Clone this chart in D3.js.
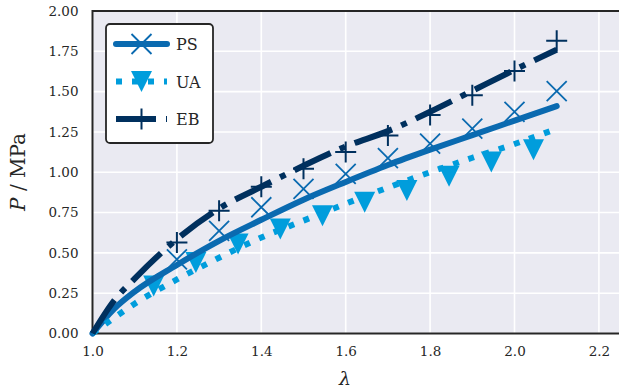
<!DOCTYPE html>
<html>
<head>
<meta charset="utf-8">
<script src="https://cdn.jsdelivr.net/npm/d3@7"></script>
<style>
  body { margin: 0; background: #fff; }
  svg { display: block; }
  text { font-family: "DejaVu Serif", serif; fill: #262626; }
</style>
</head>
<body>
<script>
// model curves (lambda -> P in MPa)
var lineLam = [1.0, 1.05, 1.1, 1.2, 1.3, 1.4, 1.5, 1.6, 1.7, 1.8, 1.9, 2.0, 2.1];
var psLine = [0, 0.15, 0.26, 0.425, 0.575, 0.705, 0.83, 0.94, 1.045, 1.14, 1.23, 1.32, 1.41];
var uaLine = [0, 0.095, 0.185, 0.335, 0.47, 0.595, 0.70, 0.805, 0.905, 1.00, 1.09, 1.175, 1.27];
var ebLine = [0, 0.20, 0.34, 0.585, 0.775, 0.91, 1.04, 1.16, 1.255, 1.375, 1.505, 1.635, 1.76];

// measured points
var psLam = [1.2, 1.3, 1.4, 1.5, 1.6, 1.7, 1.8, 1.9, 2.0, 2.1];
var psPts = [0.46, 0.637, 0.783, 0.897, 0.99, 1.088, 1.178, 1.271, 1.375, 1.503];
var ebLam = [1.2, 1.3, 1.4, 1.5, 1.6, 1.7, 1.8, 1.9, 2.0, 2.1];
var ebPts = [0.565, 0.762, 0.91, 1.022, 1.126, 1.228, 1.355, 1.478, 1.628, 1.815];
var uaLam = [1.145, 1.245, 1.345, 1.445, 1.545, 1.645, 1.745, 1.845, 1.945, 2.045];
var uaPts = [0.295, 0.44, 0.555, 0.648, 0.731, 0.814, 0.887, 0.975, 1.064, 1.14];

var xTicks = [1.0, 1.2, 1.4, 1.6, 1.8, 2.0, 2.2];
var yTicks = [0, 0.25, 0.5, 0.75, 1.0, 1.25, 1.5, 1.75, 2.0];

var colPS = "#0a6ab0", colUA = "#009ddc", colEB = "#00305e";

var W = 619, H = 391;
var svg = d3.select("body").append("svg").attr("width", W).attr("height", H);

var x = d3.scaleLinear().domain([1.0, 2.25]).range([92.5, 620]);
var y = d3.scaleLinear().domain([0, 2]).range([333.5, 11]);

// background + grid
svg.append("rect").attr("x", x(1.0)).attr("y", y(2)).attr("width", x(2.25) - x(1.0))
  .attr("height", y(0) - y(2)).attr("fill", "#eaeaf2");

svg.append("g").selectAll("line").data(xTicks).enter().append("line")
  .attr("x1", function(d) { return x(d); }).attr("x2", function(d) { return x(d); })
  .attr("y1", y(0)).attr("y2", y(2)).attr("stroke", "#fff").attr("stroke-width", 1.6);
svg.append("g").selectAll("line").data(yTicks).enter().append("line")
  .attr("x1", x(1.0)).attr("x2", x(2.25))
  .attr("y1", function(d) { return y(d); }).attr("y2", function(d) { return y(d); })
  .attr("stroke", "#fff").attr("stroke-width", 1.6);

// axes
var xAxis = svg.append("g").attr("transform", "translate(0," + y(0) + ")")
  .call(d3.axisBottom(x).tickValues(xTicks).tickFormat(d3.format(".1f")).tickSize(0).tickPadding(13));
var yAxis = svg.append("g").attr("transform", "translate(" + x(1.0) + ",0)")
  .call(d3.axisLeft(y).tickValues(yTicks).tickFormat(d3.format(".2f")).tickSize(0).tickPadding(14));
[xAxis, yAxis].forEach(function(a) {
  a.select(".domain").remove();
  a.selectAll("text").style("font-family", "DejaVu Serif").style("font-size", "13.5px").attr("fill", "#262626");
});

// spines
svg.append("path")
  .attr("d", "M" + x(2.25) + "," + y(2) + "H" + x(1.0) + "V" + y(0) + "H" + x(2.25))
  .attr("fill", "none").attr("stroke", "#262626").attr("stroke-width", 2);

// markers
var plot = svg.append("g");

function crosses(lam, vals, col) {
  plot.append("g").selectAll("path").data(lam).enter().append("path")
    .attr("d", function(d, i) {
      var cx = x(d), cy = y(vals[i]), r = 10;
      return "M" + (cx - r) + "," + (cy - r) + "L" + (cx + r) + "," + (cy + r) +
             "M" + (cx - r) + "," + (cy + r) + "L" + (cx + r) + "," + (cy - r);
    })
    .attr("stroke", col).attr("stroke-width", 1.8).attr("fill", "none");
}
function pluses(lam, vals, col) {
  plot.append("g").selectAll("path").data(lam).enter().append("path")
    .attr("d", function(d, i) {
      var cx = x(d), cy = y(vals[i]), r = 10.5;
      return "M" + (cx - r) + "," + cy + "H" + (cx + r) + "M" + cx + "," + (cy - r) + "V" + (cy + r);
    })
    .attr("stroke", col).attr("stroke-width", 2).attr("fill", "none");
}
function triangles(lam, vals, col) {
  plot.append("g").selectAll("path").data(lam).enter().append("path")
    .attr("d", function(d, i) {
      var cx = x(d), cy = y(vals[i]), r = 10.5;
      return "M" + (cx - r) + "," + (cy - r) + "L" + (cx + r) + "," + (cy - r) + "L" + cx + "," + (cy + r) + "Z";
    })
    .attr("fill", col);
}
crosses(psLam, psPts, colPS);
triangles(uaLam, uaPts, colUA);
pluses(ebLam, ebPts, colEB);

// model lines
function drawLine(vals, col, dash, cap) {
  var line = d3.line()
    .x(function(d, i) { return x(lineLam[i]); })
    .y(function(d) { return y(d); })
    .curve(d3.curveMonotoneX);
  svg.append("path").attr("d", line(vals))
    .attr("fill", "none").attr("stroke", col).attr("stroke-width", 6)
    .attr("stroke-dasharray", dash).attr("stroke-linecap", cap);
}
drawLine(psLine, colPS, null, "round");
drawLine(uaLine, colUA, "6,10", "butt");
drawLine(ebLine, colEB, "40,10,6,10", "butt");

// axis labels
var yl = svg.append("text").attr("transform", "translate(25,172) rotate(-90)")
  .attr("text-anchor", "middle").style("font-size", "20px");
yl.append("tspan").style("font-style", "italic").text("P");
yl.append("tspan").text(" / MPa");

svg.append("text").attr("x", 345).attr("y", 385).attr("text-anchor", "middle")
  .style("font-size", "19px").style("font-style", "italic").text("λ");

// legend
var leg = svg.append("g");
leg.append("rect").attr("x", 106).attr("y", 24).attr("width", 107).attr("height", 119).attr("rx", 4)
  .attr("fill", "#fff").attr("stroke", "#262626").attr("stroke-width", 1.8);

var entries = [
  {name: "PS", col: colPS, dash: null, cap: "round", mk: "x"},
  {name: "UA", col: colUA, dash: "6,10", cap: "butt", mk: "v"},
  {name: "EB", col: colEB, dash: "40,10,6,10", cap: "butt", mk: "+"}
];
entries.forEach(function(e, i) {
  var cy = 44 + i * 37.5, cx = 141.5, r = 10.5;
  leg.append("line").attr("x1", 116).attr("x2", 167).attr("y1", cy).attr("y2", cy)
    .attr("stroke", e.col).attr("stroke-width", 6).attr("stroke-dasharray", e.dash)
    .attr("stroke-linecap", e.cap);
  if (e.mk === "x") {
    leg.append("path").attr("d", "M" + (cx - 10) + "," + (cy - 10) + "L" + (cx + 10) + "," + (cy + 10) +
      "M" + (cx - 10) + "," + (cy + 10) + "L" + (cx + 10) + "," + (cy - 10))
      .attr("stroke", e.col).attr("stroke-width", 1.8);
  } else if (e.mk === "v") {
    leg.append("path").attr("d", "M" + (cx - r) + "," + (cy - r) + "L" + (cx + r) + "," + (cy - r) + "L" + cx + "," + (cy + r) + "Z")
      .attr("fill", e.col);
  } else {
    leg.append("path").attr("d", "M" + (cx - r) + "," + cy + "H" + (cx + r) + "M" + cx + "," + (cy - r) + "V" + (cy + r))
      .attr("stroke", e.col).attr("stroke-width", 2);
  }
  leg.append("text").attr("x", 176).attr("y", cy + 6).style("font-size", "16px").text(e.name);
});
</script>
</body>
</html>
